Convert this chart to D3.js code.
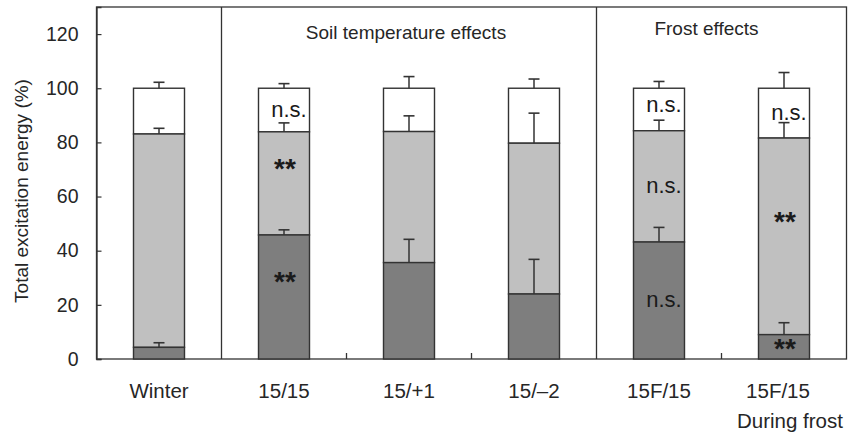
<!DOCTYPE html>
<html>
<head>
<meta charset="utf-8">
<script src="https://cdn.jsdelivr.net/npm/d3@7"></script>
<style>
  html, body { margin: 0; padding: 0; background: #fff; }
  svg { display: block; font-family: "Liberation Sans", Arial, sans-serif; }
</style>
</head>
<body>
<svg id="chart" width="849" height="433"></svg>
<script>
// Treatments along the x axis
const categories = ["Winter", "15/15", "15/+1", "15/\u20132", "15F/15", "15F/15"];
const subLabels  = ["", "", "", "", "", "During frost"];

// Partitioning of absorbed excitation energy (%), stacked bottom to top
const darkPct  = [4.3, 45.8, 35.6, 24.0, 43.2, 9.0];
const greyPct  = [78.8, 38.1, 48.4, 55.7, 41.1, 72.6];
const whitePct = [16.9, 16.1, 16.0, 20.3, 15.7, 18.4];

// Standard deviations (upper bar only) for each segment
const darkSd  = [1.7, 1.9, 8.6, 12.8, 5.4, 4.4];
const greySd  = [2.1, 3.3, 5.8, 11.1, 3.9, 5.7];
const whiteSd = [2.2, 1.7, 4.3, 3.4, 2.5, 5.8];

// Significance marks: [category index, segment, text]
const marks = [
  [1, "white", "n.s."], [1, "grey", "**"], [1, "dark", "**"],
  [4, "white", "n.s."], [4, "grey", "n.s."], [4, "dark", "n.s."],
  [5, "white", "n.s."], [5, "grey", "**"], [5, "dark", "**"]
];

// Panel groupings
const groupNames = ["Soil temperature effects", "Frost effects"];
const groupMembers = [[1, 2, 3], [4, 5]];

const yTicks = [0, 20, 40, 60, 80, 100, 120];
const yLabel = "Total excitation energy (%)";

// ---------------------------------------------------------------
const svg = d3.select("#chart");
const plotL = 96.5, plotR = 846.5, plotT = 7, plotB = 359;

const x = d3.scaleBand()
  .domain(d3.range(categories.length))
  .range([plotL, plotR])
  .paddingInner(0.592)
  .paddingOuter(0.296);
const y = d3.scaleLinear().domain([0, 130]).range([plotB, plotT]);

const step = x.step();
const bw = x.bandwidth();
const cx = i => x(i) + bw / 2;

const ink = "#333";
const txtInk = "#262626";
const fills = { dark: "#7e7e7e", grey: "#c0c0c0", white: "#ffffff" };

// stacked segments
const segs = [];
categories.forEach((c, i) => {
  const d1 = darkPct[i];
  const g1 = d1 + greyPct[i];
  const w1 = g1 + whitePct[i];
  segs.push({ i, key: "white", y0: g1, y1: w1, sd: whiteSd[i] });
  segs.push({ i, key: "grey", y0: d1, y1: g1, sd: greySd[i] });
  segs.push({ i, key: "dark", y0: 0, y1: d1, sd: darkSd[i] });
});

// frame
svg.append("rect")
  .attr("x", plotL).attr("y", plotT)
  .attr("width", plotR - plotL).attr("height", plotB - plotT)
  .attr("fill", "none").attr("stroke", ink).attr("stroke-width", 1.3);

// panel dividers and bottom ticks between neighbouring bars
const dividers = [0, 3];
for (let i = 0; i < categories.length - 1; i++) {
  const xs = cx(i) + step / 2;
  if (dividers.includes(i)) {
    svg.append("line")
      .attr("x1", xs).attr("x2", xs).attr("y1", plotT).attr("y2", plotB)
      .attr("stroke", ink).attr("stroke-width", 1.3);
  } else {
    svg.append("line")
      .attr("x1", xs).attr("x2", xs).attr("y1", plotB).attr("y2", plotB - 6)
      .attr("stroke", ink).attr("stroke-width", 1.3);
  }
}

// y axis
const yAxis = d3.axisLeft(y).tickValues(yTicks).tickSize(-5).tickPadding(18);
const gy = svg.append("g").attr("transform", `translate(${plotL},0)`).call(yAxis);
gy.select(".domain").attr("stroke", ink).attr("stroke-width", 1.3);
gy.selectAll(".tick line").attr("stroke", ink).attr("stroke-width", 1.2);
gy.selectAll(".tick text")
  .attr("font-size", 19.5).attr("fill", txtInk)
  .attr("font-family", "Liberation Sans, Arial, sans-serif");

svg.append("text")
  .attr("transform", `translate(28,${(plotT + plotB) / 2 + 8}) rotate(-90)`)
  .attr("text-anchor", "middle")
  .attr("font-size", 19).attr("fill", txtInk)
  .text(yLabel);

// bars
svg.append("g").selectAll("rect").data(segs).join("rect")
  .attr("x", d => x(d.i))
  .attr("width", bw)
  .attr("y", d => y(d.y1))
  .attr("height", d => y(d.y0) - y(d.y1))
  .attr("fill", d => fills[d.key])
  .attr("stroke", ink).attr("stroke-width", 1.4);

// error bars (upper side only)
const eb = svg.append("g").selectAll("g").data(segs).join("g");
eb.append("line")
  .attr("x1", d => cx(d.i)).attr("x2", d => cx(d.i))
  .attr("y1", d => y(d.y1)).attr("y2", d => y(d.y1 + d.sd))
  .attr("stroke", ink).attr("stroke-width", 1.5);
eb.append("line")
  .attr("x1", d => cx(d.i) - 5.5).attr("x2", d => cx(d.i) + 5.5)
  .attr("y1", d => y(d.y1 + d.sd)).attr("y2", d => y(d.y1 + d.sd))
  .attr("stroke", ink).attr("stroke-width", 1.6);

// significance marks, centred in their segment
const segOf = (i, key) => segs.find(s => s.i === i && s.key === key);
const nudge = { "1grey": -20, "1dark": -21, "5grey": -20, "5dark": -4, "4white": -4 };
marks.forEach(([i, key, txt]) => {
  const s = segOf(i, key);
  const mid = (y(s.y0) + y(s.y1)) / 2;
  const stars = txt === "**";
  const dy = nudge[i + key] || 0;
  svg.append("text")
    .attr("x", cx(i) + (stars ? 1 : 5))
    .attr("y", mid + dy + (stars ? 15 : 6.5))
    .attr("text-anchor", "middle")
    .attr("font-size", stars ? 28 : 22)
    .attr("font-weight", stars ? "bold" : "normal")
    .attr("fill", "#1a1a1a")
    .text(txt);
});

// category labels
svg.append("g").selectAll("text").data(categories).join("text")
  .attr("x", (d, i) => cx(i) + (i === 5 ? -6 : 0))
  .attr("y", 398)
  .attr("text-anchor", "middle")
  .attr("font-size", 20.5).attr("fill", txtInk)
  .text(d => d);
svg.append("g").selectAll("text").data(subLabels).join("text")
  .attr("x", (d, i) => cx(i) + 6)
  .attr("y", 428)
  .attr("text-anchor", "middle")
  .attr("font-size", 20.5).attr("fill", txtInk)
  .text(d => d);

// panel titles
const titleDx = [-3, -15], titleY = [38.5, 35];
groupNames.forEach((g, k) => {
  const m = groupMembers[k];
  const gx = (cx(m[0]) + cx(m[m.length - 1])) / 2;
  svg.append("text")
    .attr("x", gx + titleDx[k]).attr("y", titleY[k])
    .attr("text-anchor", "middle")
    .attr("font-size", 19).attr("fill", txtInk)
    .text(g);
});
</script>
</body>
</html>
